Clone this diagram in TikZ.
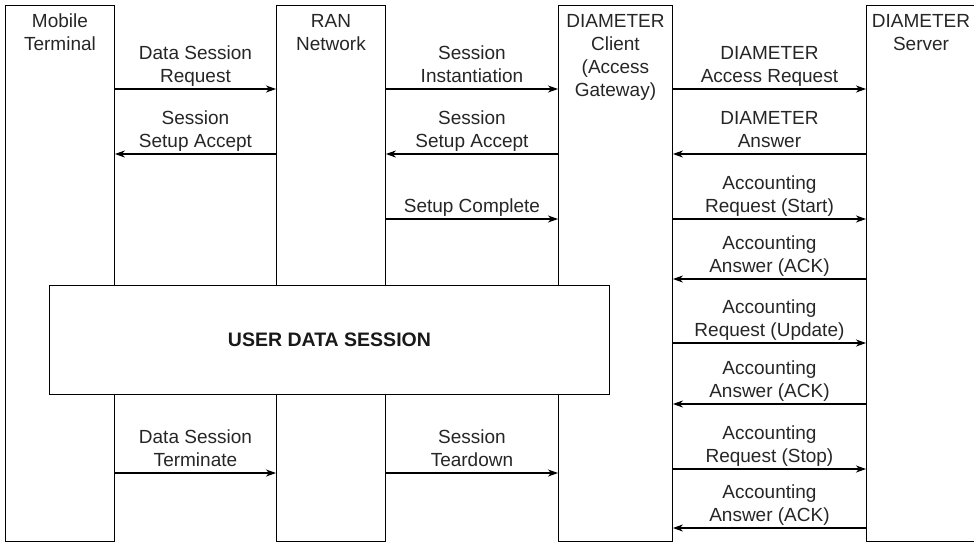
\documentclass[tikz,border=0pt]{standalone}
\usepackage{fontspec}
\setmainfont{Liberation Sans}
\usetikzlibrary{arrows.meta}
\begin{document}
\begin{tikzpicture}[x=1pt,y=-1pt,
  lifebox/.style={draw, line width=0.9pt, rectangle, inner sep=0pt, anchor=north west},
  head/.style={anchor=north, inner sep=0pt, align=center, font=\fontsize{19}{23}\selectfont, text=black!85},
  lbl/.style={anchor=south, inner sep=0pt, align=center, font=\fontsize{19}{22.5}\selectfont, text=black!85},
  msg/.style={line width=1.1pt, -{Stealth[length=10pt,width=7pt,inset=3pt]}},
]
\clip (0,0) rectangle (974,542);
% participant boxes
\node[lifebox, minimum width=109pt, minimum height=536pt] (mt) at (5,5) {};
\node[lifebox, minimum width=109pt, minimum height=536pt] (ran) at (276,5) {};
\node[lifebox, minimum width=114pt, minimum height=536pt] (cli) at (558,5) {};
\node[lifebox, minimum width=120pt, minimum height=536pt] (srv) at (866,5) {};
% headings
\node[head] (mtl) at ([yshift=-9pt]mt.north) {Mobile\\Terminal};
\node[head] (ranl) at ([yshift=-9pt]ran.north) {RAN\\Network};
\node[head] (clil) at ([yshift=-9pt]cli.north) {DIAMETER\\Client\\(Access\\Gateway)};
\node[head] (srvl) at (921,14) {DIAMETER\\Server};
% row coordinates
\coordinate (r1) at (0,89);
\coordinate (r2) at (0,154);
\coordinate (r3) at (0,219);
\coordinate (r4) at (0,279);
\coordinate (r5) at (0,343);
\coordinate (r6) at (0,404);
\coordinate (r7) at (0,469);
\coordinate (r8) at (0,528);
\coordinate (rt) at (0,473);
% Mobile <-> RAN
\draw[msg] (mt.east |- r1) -- node[lbl, above=-0.5pt] (m1) {Data Session\\Request\strut} (ran.west |- r1);
\draw[msg] (ran.west |- r2) -- node[lbl, above=-0.5pt] (m2) {Session\\Setup Accept\strut} (mt.east |- r2);
% RAN <-> Client
\draw[msg] (ran.east |- r1) -- node[lbl, above=-0.5pt] (m3) {Session\\Instantiation\strut} (cli.west |- r1);
\draw[msg] (cli.west |- r2) -- node[lbl, above=-0.5pt] (m4) {Session\\Setup Accept\strut} (ran.east |- r2);
\draw[msg] (ran.east |- r3) -- node[lbl, above=-0.5pt] (m5) {Setup Complete\strut} (cli.west |- r3);
% Client <-> Server
\draw[msg] (cli.east |- r1) -- node[lbl, above=-0.5pt] (d1) {DIAMETER\\Access Request\strut} (srv.west |- r1);
\draw[msg] (srv.west |- r2) -- node[lbl, above=-0.5pt] (d2) {DIAMETER\\Answer\strut} (cli.east |- r2);
\draw[msg] (cli.east |- r3) -- node[lbl, above=-0.5pt] (d3) {Accounting\\Request (Start)\strut} (srv.west |- r3);
\draw[msg] (srv.west |- r4) -- node[lbl, above=-0.5pt] (d4) {Accounting\\Answer (ACK)\strut} (cli.east |- r4);
\draw[msg] (cli.east |- r5) -- node[lbl, above=-0.5pt] (d5) {Accounting\\Request (Update)\strut} (srv.west |- r5);
\draw[msg] (srv.west |- r6) -- node[lbl, above=-0.5pt] (d6) {Accounting\\Answer (ACK)\strut} (cli.east |- r6);
\draw[msg] (cli.east |- r7) -- node[lbl, above=-0.5pt] (d7) {Accounting\\Request (Stop)\strut} (srv.west |- r7);
\draw[msg] (srv.west |- r8) -- node[lbl, above=-0.5pt] (d8) {Accounting\\Answer (ACK)\strut} (cli.east |- r8);
% termination
\draw[msg] (mt.east |- rt) -- node[lbl, above=-0.5pt] (t1) {Data Session\\Terminate\strut} (ran.west |- rt);
\draw[msg] (ran.east |- rt) -- node[lbl, above=-0.5pt] (t2) {Session\\Teardown\strut} (cli.west |- rt);
% user data session
\node[draw, line width=0.9pt, fill=white, inner sep=0pt, anchor=north west,
      minimum width=560pt, minimum height=109pt, text=black!90,
      font=\fontsize{19.5}{22}\selectfont\bfseries] (uds) at (49,285) {USER DATA SESSION};
\end{tikzpicture}
\end{document}
